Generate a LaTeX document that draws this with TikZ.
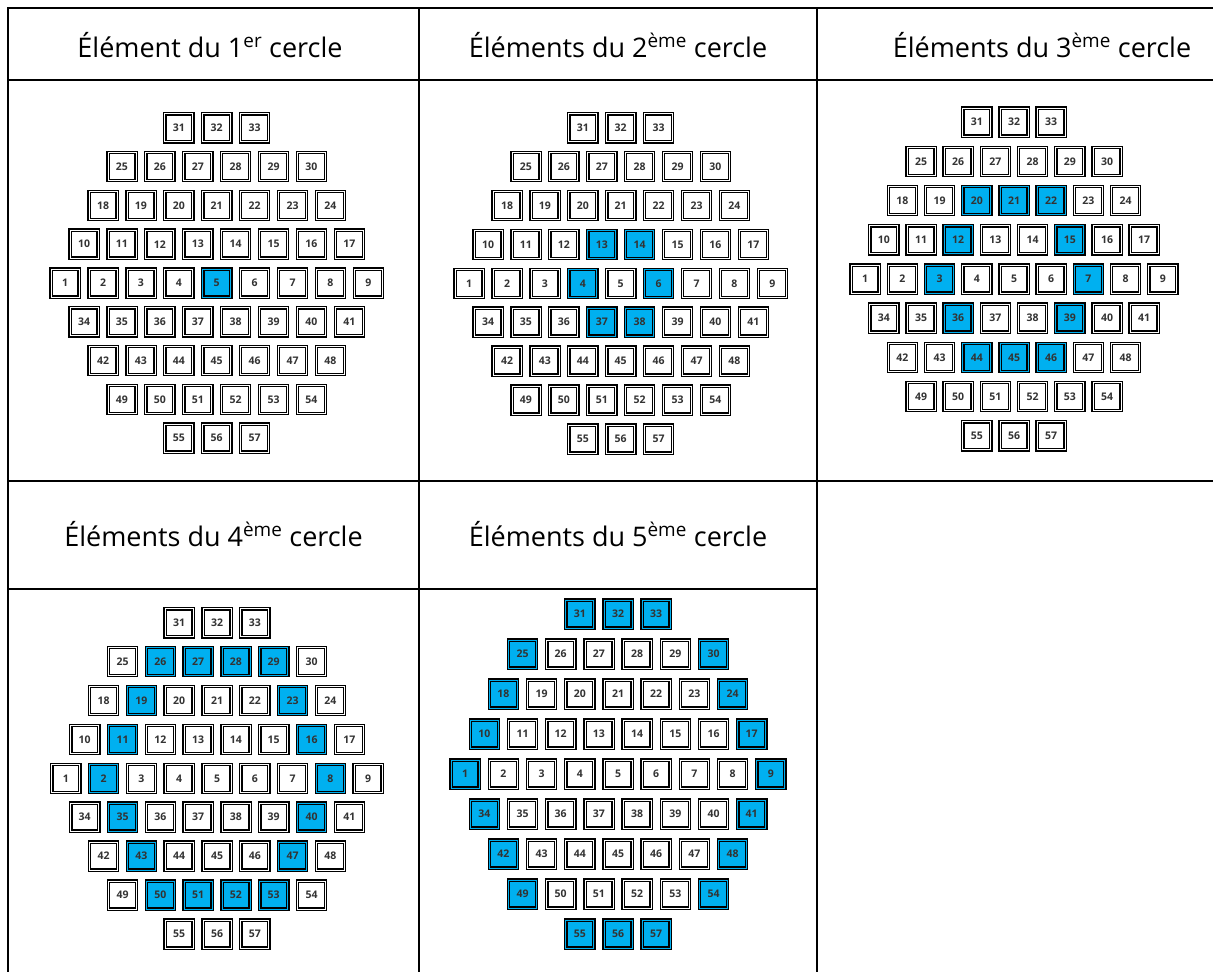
\documentclass[tikz,border=0pt]{standalone}
\usepackage{fontspec}
\setmainfont{Open Sans}
\usetikzlibrary{positioning}
\definecolor{cellblue}{HTML}{00B0F0}
\definecolor{numgray}{HTML}{333333}

\makeatletter
% sets \elemcol to blue when #1 is in the list #2
\newcommand\pickfill[2]{%
  \edef\@tmpcheck{\noexpand\in@{,#1,}{,#2,}}\@tmpcheck
  \ifin@\def\elemcol{cellblue}\else\def\elemcol{white}\fi}
\makeatother

\tikzset{
  rule/.style={line width=2.6pt, line cap=rect},
  hdr/.style={font=\fontsize{27}{31}\selectfont, inner sep=0pt, anchor=base},
  elem/.style={draw=black, line width=1.4pt, double distance=0.8pt,
    minimum size=28pt, inner sep=0pt,
    font=\fontsize{10.5}{10.5}\selectfont\bfseries, text=numgray}
}

% #1 prefix, #2 #3 centre of element 5, #4 #5 pitch, #6 blue elements
\newcommand\elemgrid[6]{%
  \foreach \first/\cnt/\row in {31/3/-4,25/6/-3,18/7/-2,10/8/-1,1/9/0,34/8/1,42/7/2,49/6/3,55/3/4}{
    \foreach \k in {1,...,\cnt}{
      \pgfmathtruncatemacro\num{\first+\k-1}
      \pickfill{\num}{#6}
      \node[elem, fill=\elemcol, double=\elemcol] (#1\num)
        at ({#2+(\k-(\cnt+1)/2)*#4}, {#3+\row*#5}) {\num};
    }
  }%
}

\begin{document}
\begin{tikzpicture}[x=1pt, y=-1pt]
  \useasboundingbox (0,0) rectangle (1213,972);

  % table
  \draw[rule] (8,972) -- (8,8) -- (1213,8);
  \draw[rule] (8,80) -- (1213,80);
  \draw[rule] (8,481) -- (1213,481);
  \draw[rule] (8,589) -- (817,589);
  \draw[rule] (419,8) -- (419,972);
  \draw[rule] (817,8) -- (817,972);

  % headers
  \node[hdr] (head1) at (210,57) {Élément du 1\textsuperscript{er} cercle};
  \node[hdr] (head2) at (618,57) {Éléments du 2\textsuperscript{ème} cercle};
  \node[hdr] (head3) at (1042,57) {Éléments du 3\textsuperscript{ème} cercle};
  \node[hdr] (head4) at (213.5,546) {Éléments du 4\textsuperscript{ème} cercle};
  \node[hdr] (head5) at (618,546) {Éléments du 5\textsuperscript{ème} cercle};

  % circles
  \elemgrid{a}{216.7}{283}{37.9}{38.8}{5}
  \elemgrid{b}{620.7}{283.3}{37.9}{38.9}{4,6,13,14,37,38}
  \elemgrid{c}{1014}{279}{37.2}{39.2}{3,7,12,15,20,21,22,36,39,44,45,46}
  \elemgrid{d}{217}{778.3}{37.8}{38.9}{2,8,11,16,19,23,26,27,28,29,35,40,43,47,50,51,52,53}
  \elemgrid{e}{618}{774}{38.2}{40}{1,9,10,17,18,24,25,30,31,32,33,34,41,42,48,49,54,55,56,57}
\end{tikzpicture}
\end{document}
